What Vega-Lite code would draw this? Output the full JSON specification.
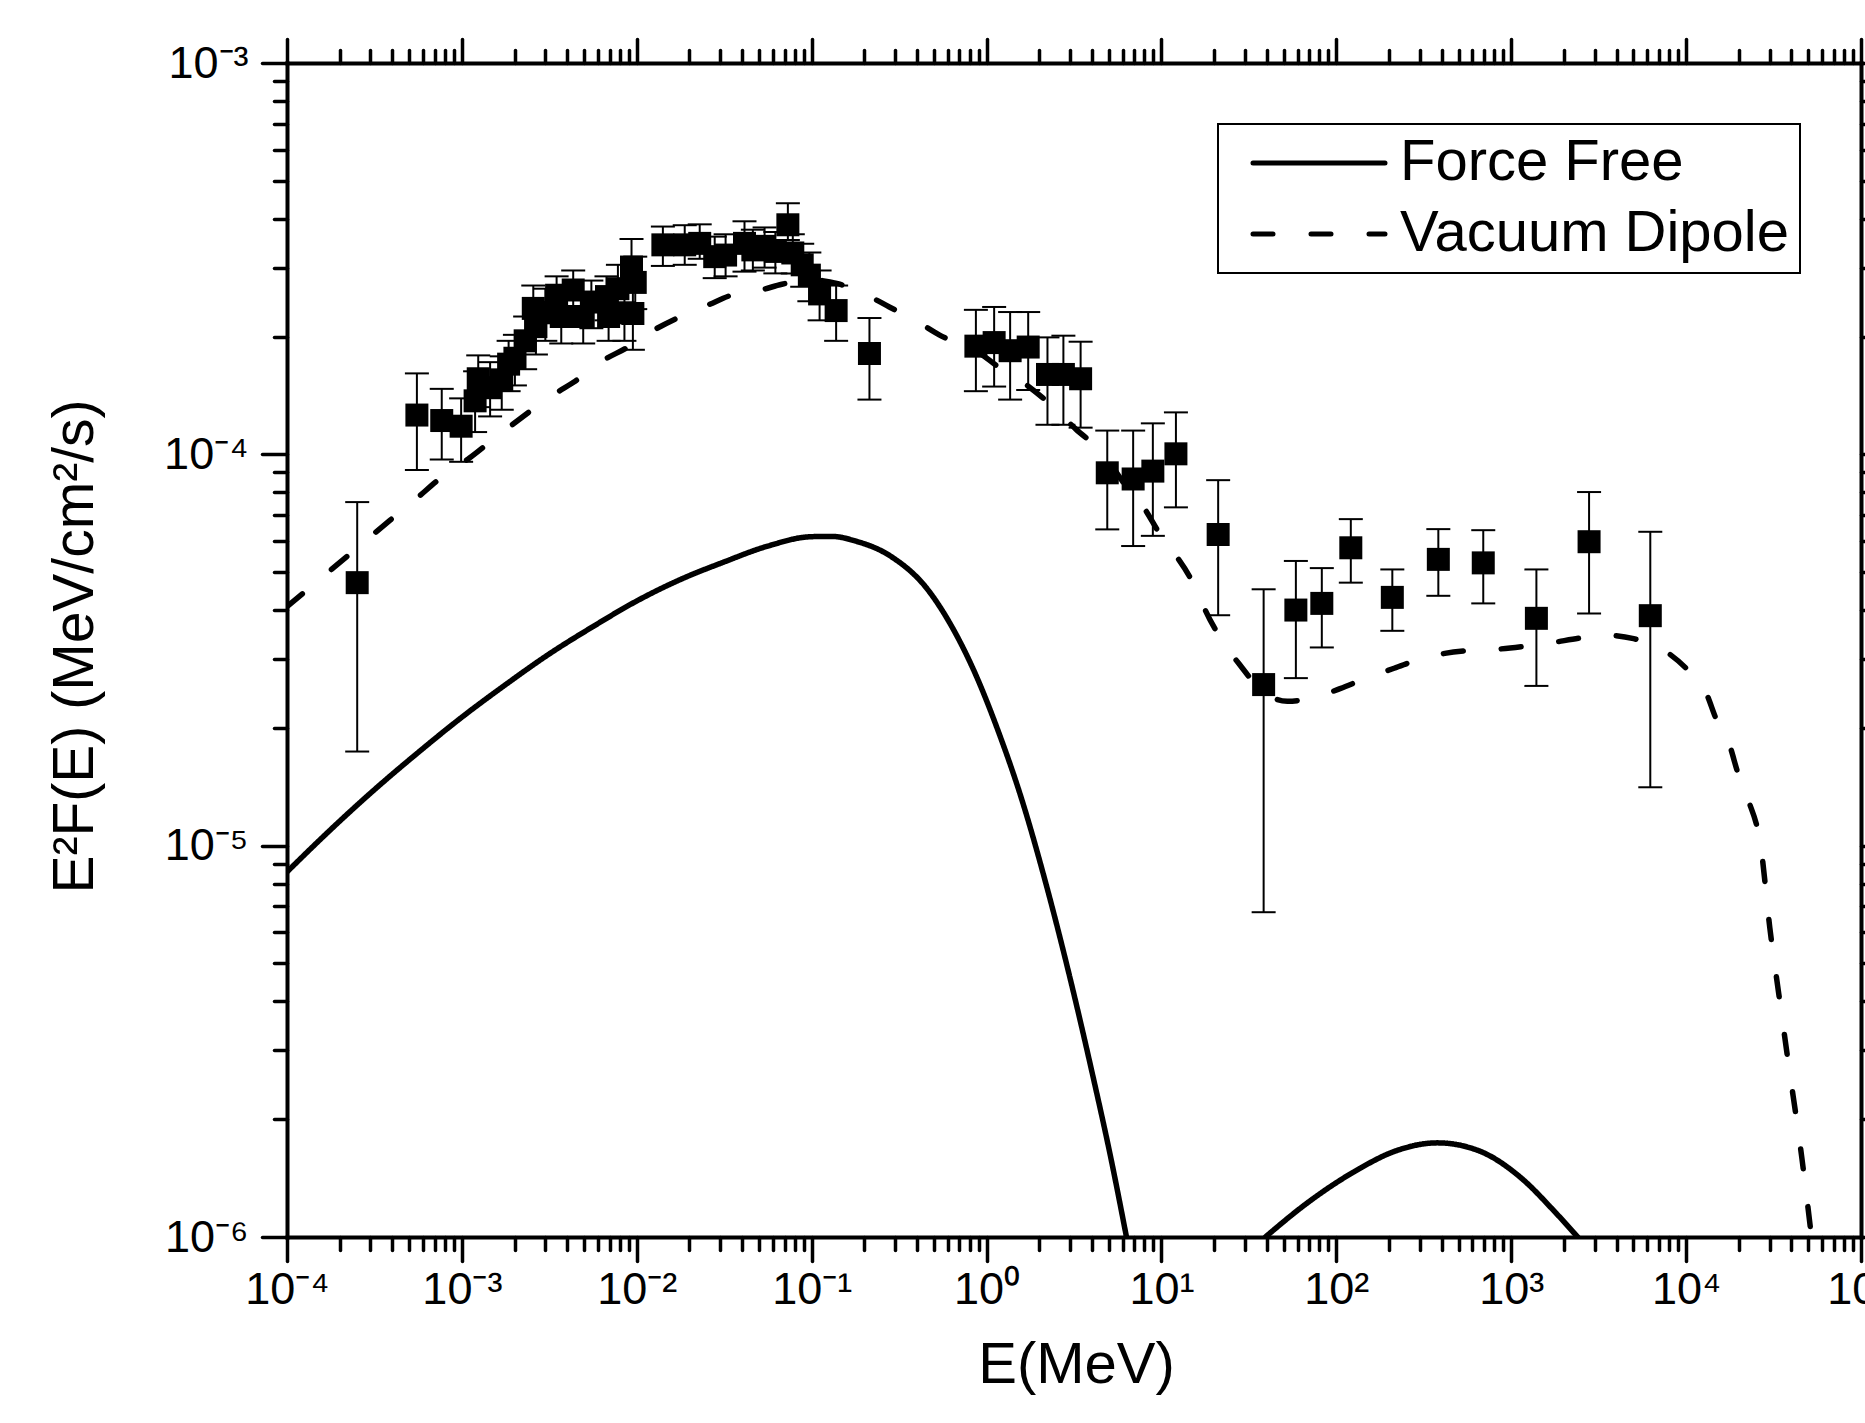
{
  "$schema": "https://vega.github.io/schema/vega-lite/v6.json",
  "autosize": {"type": "none"},
  "padding": {"left": 287, "top": 63, "right": 4, "bottom": 186},
  "width": 1574,
  "height": 1174,
  "background": "white",
  "config": {
    "view": {"stroke": null},
    "axis": {
      "labelFont": "Liberation Sans",
      "labelFontSize": 45,
      "labelColor": "black",
      "titleFont": "Liberation Sans",
      "titleColor": "black",
      "titleFontWeight": "normal",
      "domainColor": "black",
      "domainWidth": 4,
      "domainCap": "square",
      "tickColor": "black",
      "tickWidth": 3.5,
      "tickCap": "round",
      "grid": false,
      "labelOverlap": false,
      "labelFlush": false,
      "labelBound": false
    }
  },
  "datasets": {
    "curves": [
      {"model": "Force Free", "seg": "a", "E": 0.0001, "F": 8.57e-6},
      {"model": "Force Free", "seg": "a", "E": 0.000178, "F": 1.10e-5},
      {"model": "Force Free", "seg": "a", "E": 0.000316, "F": 1.39e-5},
      {"model": "Force Free", "seg": "a", "E": 0.000562, "F": 1.73e-5},
      {"model": "Force Free", "seg": "a", "E": 0.001, "F": 2.13e-5},
      {"model": "Force Free", "seg": "a", "E": 0.00178, "F": 2.58e-5},
      {"model": "Force Free", "seg": "a", "E": 0.00316, "F": 3.09e-5},
      {"model": "Force Free", "seg": "a", "E": 0.00562, "F": 3.63e-5},
      {"model": "Force Free", "seg": "a", "E": 0.01, "F": 4.22e-5},
      {"model": "Force Free", "seg": "a", "E": 0.0178, "F": 4.79e-5},
      {"model": "Force Free", "seg": "a", "E": 0.0316, "F": 5.31e-5},
      {"model": "Force Free", "seg": "a", "E": 0.0562, "F": 5.83e-5},
      {"model": "Force Free", "seg": "a", "E": 0.1, "F": 6.16e-5},
      {"model": "Force Free", "seg": "a", "E": 0.13, "F": 6.17e-5},
      {"model": "Force Free", "seg": "a", "E": 0.179, "F": 6.0e-5},
      {"model": "Force Free", "seg": "a", "E": 0.285, "F": 5.48e-5},
      {"model": "Force Free", "seg": "a", "E": 0.456, "F": 4.54e-5},
      {"model": "Force Free", "seg": "a", "E": 0.624, "F": 3.67e-5},
      {"model": "Force Free", "seg": "a", "E": 0.853, "F": 2.78e-5},
      {"model": "Force Free", "seg": "a", "E": 1.167, "F": 1.96e-5},
      {"model": "Force Free", "seg": "a", "E": 1.592, "F": 1.31e-5},
      {"model": "Force Free", "seg": "a", "E": 2.178, "F": 8.04e-6},
      {"model": "Force Free", "seg": "a", "E": 2.98, "F": 4.65e-6},
      {"model": "Force Free", "seg": "a", "E": 4.07, "F": 2.56e-6},
      {"model": "Force Free", "seg": "a", "E": 5.14, "F": 1.59e-6},
      {"model": "Force Free", "seg": "a", "E": 6.31, "F": 1.0e-6},
      {"model": "Force Free", "seg": "b", "E": 39.3, "F": 1.0e-6},
      {"model": "Force Free", "seg": "b", "E": 67.9, "F": 1.22e-6},
      {"model": "Force Free", "seg": "b", "E": 127, "F": 1.47e-6},
      {"model": "Force Free", "seg": "b", "E": 219, "F": 1.66e-6},
      {"model": "Force Free", "seg": "b", "E": 378, "F": 1.74e-6},
      {"model": "Force Free", "seg": "b", "E": 655, "F": 1.66e-6},
      {"model": "Force Free", "seg": "b", "E": 1130, "F": 1.42e-6},
      {"model": "Force Free", "seg": "b", "E": 1807, "F": 1.15e-6},
      {"model": "Force Free", "seg": "b", "E": 2399, "F": 1.0e-6},
      {"model": "Vacuum Dipole", "seg": "c", "E": 0.0001, "F": 4.08e-5},
      {"model": "Vacuum Dipole", "seg": "c", "E": 0.000257, "F": 5.81e-5},
      {"model": "Vacuum Dipole", "seg": "c", "E": 0.000389, "F": 6.79e-5},
      {"model": "Vacuum Dipole", "seg": "c", "E": 0.000537, "F": 7.64e-5},
      {"model": "Vacuum Dipole", "seg": "c", "E": 0.000794, "F": 8.85e-5},
      {"model": "Vacuum Dipole", "seg": "c", "E": 0.0011, "F": 9.77e-5},
      {"model": "Vacuum Dipole", "seg": "c", "E": 0.00158, "F": 0.000111},
      {"model": "Vacuum Dipole", "seg": "c", "E": 0.00219, "F": 0.000124},
      {"model": "Vacuum Dipole", "seg": "c", "E": 0.00316, "F": 0.00014},
      {"model": "Vacuum Dipole", "seg": "c", "E": 0.00437, "F": 0.000153},
      {"model": "Vacuum Dipole", "seg": "c", "E": 0.00631, "F": 0.000173},
      {"model": "Vacuum Dipole", "seg": "c", "E": 0.00891, "F": 0.000188},
      {"model": "Vacuum Dipole", "seg": "c", "E": 0.0126, "F": 0.000208},
      {"model": "Vacuum Dipole", "seg": "c", "E": 0.0178, "F": 0.000225},
      {"model": "Vacuum Dipole", "seg": "c", "E": 0.0257, "F": 0.000241},
      {"model": "Vacuum Dipole", "seg": "c", "E": 0.0347, "F": 0.000255},
      {"model": "Vacuum Dipole", "seg": "c", "E": 0.0513, "F": 0.000263},
      {"model": "Vacuum Dipole", "seg": "c", "E": 0.0676, "F": 0.000272},
      {"model": "Vacuum Dipole", "seg": "c", "E": 0.1, "F": 0.000279},
      {"model": "Vacuum Dipole", "seg": "c", "E": 0.141, "F": 0.000273},
      {"model": "Vacuum Dipole", "seg": "c", "E": 0.204, "F": 0.000256},
      {"model": "Vacuum Dipole", "seg": "c", "E": 0.278, "F": 0.000238},
      {"model": "Vacuum Dipole", "seg": "c", "E": 0.404, "F": 0.000218},
      {"model": "Vacuum Dipole", "seg": "c", "E": 0.536, "F": 0.000202},
      {"model": "Vacuum Dipole", "seg": "c", "E": 0.955, "F": 0.000179},
      {"model": "Vacuum Dipole", "seg": "c", "E": 1.13, "F": 0.000169},
      {"model": "Vacuum Dipole", "seg": "c", "E": 1.64, "F": 0.000152},
      {"model": "Vacuum Dipole", "seg": "c", "E": 2.28, "F": 0.000135},
      {"model": "Vacuum Dipole", "seg": "c", "E": 3.24, "F": 0.000116},
      {"model": "Vacuum Dipole", "seg": "c", "E": 4.49, "F": 0.000102},
      {"model": "Vacuum Dipole", "seg": "c", "E": 6.52, "F": 8.11e-5},
      {"model": "Vacuum Dipole", "seg": "c", "E": 7.76, "F": 7.41e-5},
      {"model": "Vacuum Dipole", "seg": "c", "E": 9.89, "F": 6.22e-5},
      {"model": "Vacuum Dipole", "seg": "c", "E": 11.5, "F": 5.69e-5},
      {"model": "Vacuum Dipole", "seg": "c", "E": 16.2, "F": 4.42e-5},
      {"model": "Vacuum Dipole", "seg": "c", "E": 17.8, "F": 4.0e-5},
      {"model": "Vacuum Dipole", "seg": "c", "E": 22.2, "F": 3.35e-5},
      {"model": "Vacuum Dipole", "seg": "c", "E": 27.7, "F": 2.92e-5},
      {"model": "Vacuum Dipole", "seg": "c", "E": 39.3, "F": 2.45e-5},
      {"model": "Vacuum Dipole", "seg": "c", "E": 52.5, "F": 2.34e-5},
      {"model": "Vacuum Dipole", "seg": "c", "E": 77.6, "F": 2.4e-5},
      {"model": "Vacuum Dipole", "seg": "c", "E": 105, "F": 2.52e-5},
      {"model": "Vacuum Dipole", "seg": "c", "E": 155, "F": 2.7e-5},
      {"model": "Vacuum Dipole", "seg": "c", "E": 214, "F": 2.84e-5},
      {"model": "Vacuum Dipole", "seg": "c", "E": 309, "F": 3.01e-5},
      {"model": "Vacuum Dipole", "seg": "c", "E": 417, "F": 3.1e-5},
      {"model": "Vacuum Dipole", "seg": "c", "E": 617, "F": 3.16e-5},
      {"model": "Vacuum Dipole", "seg": "c", "E": 851, "F": 3.18e-5},
      {"model": "Vacuum Dipole", "seg": "c", "E": 1259, "F": 3.24e-5},
      {"model": "Vacuum Dipole", "seg": "c", "E": 1698, "F": 3.3e-5},
      {"model": "Vacuum Dipole", "seg": "c", "E": 2455, "F": 3.39e-5},
      {"model": "Vacuum Dipole", "seg": "c", "E": 3428, "F": 3.45e-5},
      {"model": "Vacuum Dipole", "seg": "c", "E": 5012, "F": 3.38e-5},
      {"model": "Vacuum Dipole", "seg": "c", "E": 6918, "F": 3.22e-5},
      {"model": "Vacuum Dipole", "seg": "c", "E": 10000, "F": 2.84e-5},
      {"model": "Vacuum Dipole", "seg": "c", "E": 12800, "F": 2.5e-5},
      {"model": "Vacuum Dipole", "seg": "c", "E": 15100, "F": 2.07e-5},
      {"model": "Vacuum Dipole", "seg": "c", "E": 17700, "F": 1.81e-5},
      {"model": "Vacuum Dipole", "seg": "c", "E": 19800, "F": 1.53e-5},
      {"model": "Vacuum Dipole", "seg": "c", "E": 22500, "F": 1.32e-5},
      {"model": "Vacuum Dipole", "seg": "c", "E": 26900, "F": 9.75e-6},
      {"model": "Vacuum Dipole", "seg": "c", "E": 30100, "F": 6.17e-6},
      {"model": "Vacuum Dipole", "seg": "c", "E": 33900, "F": 4.17e-6},
      {"model": "Vacuum Dipole", "seg": "c", "E": 38100, "F": 2.86e-6},
      {"model": "Vacuum Dipole", "seg": "c", "E": 46000, "F": 1.58e-6},
      {"model": "Vacuum Dipole", "seg": "c", "E": 52100, "F": 1.0e-6}
    ],
    "points": [
      {"E": 0.000252, "F": 4.70e-5, "lo": 1.74e-5, "hi": 7.55e-5},
      {"E": 0.000553, "F": 0.000126, "lo": 9.12e-5, "hi": 0.000161},
      {"E": 0.000767, "F": 0.000122, "lo": 9.70e-5, "hi": 0.000147},
      {"E": 0.00099, "F": 0.000118, "lo": 9.57e-5, "hi": 0.000139},
      {"E": 0.00119, "F": 0.000137, "lo": 0.000114, "hi": 0.000163},
      {"E": 0.00124, "F": 0.000156, "lo": 0.000132, "hi": 0.000179},
      {"E": 0.00145, "F": 0.000148, "lo": 0.000125, "hi": 0.000172},
      {"E": 0.00169, "F": 0.000155, "lo": 0.00013, "hi": 0.000178},
      {"E": 0.00185, "F": 0.00017, "lo": 0.000145, "hi": 0.000195},
      {"E": 0.00201, "F": 0.000176, "lo": 0.00015, "hi": 0.000202},
      {"E": 0.0023, "F": 0.000195, "lo": 0.000165, "hi": 0.000225},
      {"E": 0.00256, "F": 0.000236, "lo": 0.0002, "hi": 0.00027},
      {"E": 0.00265, "F": 0.000212, "lo": 0.00018, "hi": 0.000245},
      {"E": 0.003, "F": 0.00023, "lo": 0.000195, "hi": 0.000265},
      {"E": 0.00348, "F": 0.000255, "lo": 0.00022, "hi": 0.000285},
      {"E": 0.0037, "F": 0.000225, "lo": 0.000192, "hi": 0.000255},
      {"E": 0.00433, "F": 0.000263, "lo": 0.000228, "hi": 0.000295},
      {"E": 0.00494, "F": 0.000225, "lo": 0.000192, "hi": 0.000258},
      {"E": 0.0055, "F": 0.000245, "lo": 0.00021, "hi": 0.000278},
      {"E": 0.00671, "F": 0.000253, "lo": 0.00022, "hi": 0.000285},
      {"E": 0.0069, "F": 0.000225, "lo": 0.000195, "hi": 0.000255},
      {"E": 0.0078, "F": 0.000265, "lo": 0.000225, "hi": 0.000305},
      {"E": 0.0085, "F": 0.00023, "lo": 0.000195, "hi": 0.000265},
      {"E": 0.00933, "F": 0.000301, "lo": 0.00026, "hi": 0.000355},
      {"E": 0.0095, "F": 0.000229, "lo": 0.000185, "hi": 0.00027},
      {"E": 0.0098, "F": 0.000275, "lo": 0.000235, "hi": 0.00032},
      {"E": 0.0141, "F": 0.000343, "lo": 0.000303, "hi": 0.000382},
      {"E": 0.0188, "F": 0.000343, "lo": 0.000305, "hi": 0.000385},
      {"E": 0.0229, "F": 0.000346, "lo": 0.000316, "hi": 0.000387},
      {"E": 0.0279, "F": 0.00032, "lo": 0.000282, "hi": 0.00036},
      {"E": 0.0322, "F": 0.000323, "lo": 0.000285, "hi": 0.000365},
      {"E": 0.0413, "F": 0.000346, "lo": 0.000293, "hi": 0.000394},
      {"E": 0.0461, "F": 0.000333, "lo": 0.000295, "hi": 0.000375},
      {"E": 0.0538, "F": 0.00034, "lo": 0.0003, "hi": 0.00038},
      {"E": 0.062, "F": 0.00033, "lo": 0.00029, "hi": 0.00037},
      {"E": 0.0731, "F": 0.000386, "lo": 0.000353, "hi": 0.000438},
      {"E": 0.078, "F": 0.000327, "lo": 0.00029, "hi": 0.000365},
      {"E": 0.0883, "F": 0.000305, "lo": 0.000268, "hi": 0.000345},
      {"E": 0.097, "F": 0.000287, "lo": 0.000246, "hi": 0.000328},
      {"E": 0.111, "F": 0.000257, "lo": 0.00022, "hi": 0.000295},
      {"E": 0.138, "F": 0.000233, "lo": 0.000195, "hi": 0.00027},
      {"E": 0.214, "F": 0.000181, "lo": 0.000138, "hi": 0.000223},
      {"E": 0.869, "F": 0.000189, "lo": 0.000145, "hi": 0.000234},
      {"E": 1.105, "F": 0.000193, "lo": 0.000149, "hi": 0.000238},
      {"E": 1.364, "F": 0.000184, "lo": 0.000138, "hi": 0.000231},
      {"E": 1.73, "F": 0.000188, "lo": 0.000146, "hi": 0.000231},
      {"E": 2.23, "F": 0.00016, "lo": 0.000119, "hi": 0.000199},
      {"E": 2.75, "F": 0.00016, "lo": 0.000119, "hi": 0.000201},
      {"E": 3.45, "F": 0.000156, "lo": 0.000117, "hi": 0.000194},
      {"E": 4.9, "F": 8.97e-5, "lo": 6.43e-5, "hi": 0.000115},
      {"E": 6.89, "F": 8.65e-5, "lo": 5.83e-5, "hi": 0.000115},
      {"E": 8.93, "F": 9.06e-5, "lo": 6.19e-5, "hi": 0.00012},
      {"E": 12.1, "F": 0.0001003, "lo": 7.32e-5, "hi": 0.000128},
      {"E": 21.1, "F": 6.24e-5, "lo": 3.88e-5, "hi": 8.59e-5},
      {"E": 38.4, "F": 2.58e-5, "lo": 6.76e-6, "hi": 4.52e-5},
      {"E": 58.7, "F": 4.0e-5, "lo": 2.68e-5, "hi": 5.34e-5},
      {"E": 82.6, "F": 4.16e-5, "lo": 3.21e-5, "hi": 5.12e-5},
      {"E": 121, "F": 5.77e-5, "lo": 4.7e-5, "hi": 6.83e-5},
      {"E": 209, "F": 4.31e-5, "lo": 3.54e-5, "hi": 5.08e-5},
      {"E": 383, "F": 5.39e-5, "lo": 4.35e-5, "hi": 6.44e-5},
      {"E": 692, "F": 5.28e-5, "lo": 4.16e-5, "hi": 6.4e-5},
      {"E": 1393, "F": 3.81e-5, "lo": 2.56e-5, "hi": 5.08e-5},
      {"E": 2787, "F": 5.98e-5, "lo": 3.92e-5, "hi": 8.01e-5},
      {"E": 6240, "F": 3.87e-5, "lo": 1.41e-5, "hi": 6.34e-5}
    ]
  },
  "layer": [
    {
      "data": {"name": "curves"},
      "mark": {"type": "line", "interpolate": "monotone", "strokeWidth": 5.5, "strokeCap": "round", "strokeJoin": "round", "color": "black", "clip": true},
      "encoding": {
        "x": {
          "field": "E", "type": "quantitative",
          "scale": {"type": "log", "domain": [0.0001, 100000], "nice": false},
          "axis": {
            "orient": "bottom",
            "values": [0.0001,0.0002,0.0003,0.0004,0.0005,0.0006,0.0007,0.0008,0.0009,0.001,0.002,0.003,0.004,0.005,0.006,0.007,0.008,0.009,0.01,0.02,0.03,0.04,0.05,0.06,0.07,0.08,0.09,0.1,0.2,0.3,0.4,0.5,0.6,0.7,0.8,0.9,1,2,3,4,5,6,7,8,9,10,20,30,40,50,60,70,80,90,100,200,300,400,500,600,700,800,900,1000,2000,3000,4000,5000,6000,7000,8000,9000,10000,20000,30000,40000,50000,60000,70000,80000,90000,100000],
            "labelExpr": "abs(log(datum.value)/LN10 - round(log(datum.value)/LN10)) < 0.001 ? ['10⁻⁶','10⁻⁵','10⁻⁴','10⁻³','10⁻²','10⁻¹','10⁰','10¹','10²','10³','10⁴','10⁵'][round(log(datum.value)/LN10)+6] : ''",
            "tickSize": {"condition": {"test": "abs(log(datum.value)/LN10 - round(log(datum.value)/LN10)) < 0.001", "value": 24}, "value": 13},
            "labelPadding": 6,
            "title": "E(MeV)",
            "titleFontSize": 58,
            "titleX": 789,
            "titleY": 145,
            "titleAlign": "center",
            "titleBaseline": "alphabetic"
          }
        },
        "y": {
          "field": "F", "type": "quantitative",
          "scale": {"type": "log", "domain": [0.000001, 0.001], "nice": false},
          "axis": {
            "orient": "left",
            "values": [0.000001,0.000002,0.000003,0.000004,0.000005,0.000006,0.000007,0.000008,0.000009,0.00001,0.00002,0.00003,0.00004,0.00005,0.00006,0.00007,0.00008,0.00009,0.0001,0.0002,0.0003,0.0004,0.0005,0.0006,0.0007,0.0008,0.0009,0.001],
            "labelExpr": "abs(log(datum.value)/LN10 - round(log(datum.value)/LN10)) < 0.001 ? ['10⁻⁶','10⁻⁵','10⁻⁴','10⁻³','10⁻²','10⁻¹','10⁰','10¹','10²','10³','10⁴','10⁵'][round(log(datum.value)/LN10)+6] : ''",
            "tickSize": {"condition": {"test": "abs(log(datum.value)/LN10 - round(log(datum.value)/LN10)) < 0.001", "value": 25}, "value": 13},
            "labelPadding": 14,
            "title": "E²F(E) (MeV/cm²/s)",
            "titleFontSize": 57,
            "titleAngle": -90,
            "titleX": -212,
            "titleY": 583,
            "titleAlign": "center",
            "titleBaseline": "middle"
          }
        },
        "detail": {"field": "seg"},
        "strokeDash": {
          "field": "model", "type": "nominal",
          "scale": {"domain": ["Force Free", "Vacuum Dipole"], "range": [[1, 0], [20, 38]]},
          "legend": {
            "title": null,
            "orient": "none",
            "legendX": 931,
            "legendY": 61,
            "padding": 10,
            "rowPadding": 13,
            "strokeColor": "black",
            "labelFont": "Liberation Sans",
            "labelFontSize": 58,
            "labelColor": "black",
            "labelLimit": 0,
            "labelOffset": 107,
            "symbolOffset": 7,
            "symbolType": "M-1,0H11",
            "symbolSize": 484,
            "symbolStrokeWidth": 5,
            "symbolStrokeColor": "black",
            "encode": {
              "legend": {"update": {"strokeWidth": {"value": 2}}},
              "symbols": {"update": {
                "strokeCap": {"value": "round"},
                "strokeDash": {"signal": "datum.label == 'Vacuum Dipole' ? [18, 23] : [1, 0]"}
              }}
            }
          }
        }
      }
    },
    {
      "data": {"name": "points"},
      "mark": {"type": "rule", "strokeWidth": 2, "color": "black"},
      "encoding": {
        "x": {
          "field": "E", "type": "quantitative",
          "scale": {"type": "log", "domain": [0.0001, 100000], "nice": false},
          "axis": {
            "orient": "top",
            "values": [0.0001,0.0002,0.0003,0.0004,0.0005,0.0006,0.0007,0.0008,0.0009,0.001,0.002,0.003,0.004,0.005,0.006,0.007,0.008,0.009,0.01,0.02,0.03,0.04,0.05,0.06,0.07,0.08,0.09,0.1,0.2,0.3,0.4,0.5,0.6,0.7,0.8,0.9,1,2,3,4,5,6,7,8,9,10,20,30,40,50,60,70,80,90,100,200,300,400,500,600,700,800,900,1000,2000,3000,4000,5000,6000,7000,8000,9000,10000,20000,30000,40000,50000,60000,70000,80000,90000,100000],
            "labels": false,
            "tickSize": {"condition": {"test": "abs(log(datum.value)/LN10 - round(log(datum.value)/LN10)) < 0.001", "value": 24}, "value": 13},
            "title": null
          }
        },
        "y": {
          "field": "lo", "type": "quantitative",
          "scale": {"type": "log", "domain": [0.000001, 0.001], "nice": false},
          "axis": {
            "orient": "right",
            "values": [0.000001,0.000002,0.000003,0.000004,0.000005,0.000006,0.000007,0.000008,0.000009,0.00001,0.00002,0.00003,0.00004,0.00005,0.00006,0.00007,0.00008,0.00009,0.0001,0.0002,0.0003,0.0004,0.0005,0.0006,0.0007,0.0008,0.0009,0.001],
            "labels": false,
            "tickSize": {"condition": {"test": "abs(log(datum.value)/LN10 - round(log(datum.value)/LN10)) < 0.001", "value": 25}, "value": 13},
            "title": null
          }
        },
        "y2": {"field": "hi"}
      }
    },
    {
      "data": {"name": "points"},
      "mark": {"type": "tick", "orient": "horizontal", "size": 24, "thickness": 2, "color": "black", "opacity": 1},
      "encoding": {
        "x": {"field": "E", "type": "quantitative", "scale": {"type": "log", "domain": [0.0001, 100000], "nice": false}, "axis": null},
        "y": {"field": "lo", "type": "quantitative", "scale": {"type": "log", "domain": [0.000001, 0.001], "nice": false}, "axis": null}
      }
    },
    {
      "data": {"name": "points"},
      "mark": {"type": "tick", "orient": "horizontal", "size": 24, "thickness": 2, "color": "black", "opacity": 1},
      "encoding": {
        "x": {"field": "E", "type": "quantitative", "scale": {"type": "log", "domain": [0.0001, 100000], "nice": false}, "axis": null},
        "y": {"field": "hi", "type": "quantitative", "scale": {"type": "log", "domain": [0.000001, 0.001], "nice": false}, "axis": null}
      }
    },
    {
      "data": {"name": "points"},
      "mark": {"type": "square", "size": 529, "color": "black", "opacity": 1, "filled": true},
      "encoding": {
        "x": {"field": "E", "type": "quantitative", "scale": {"type": "log", "domain": [0.0001, 100000], "nice": false}, "axis": null},
        "y": {"field": "F", "type": "quantitative", "scale": {"type": "log", "domain": [0.000001, 0.001], "nice": false}, "axis": null}
      }
    }
  ],
  "resolve": {"axis": {"x": "independent", "y": "independent"}}
}
